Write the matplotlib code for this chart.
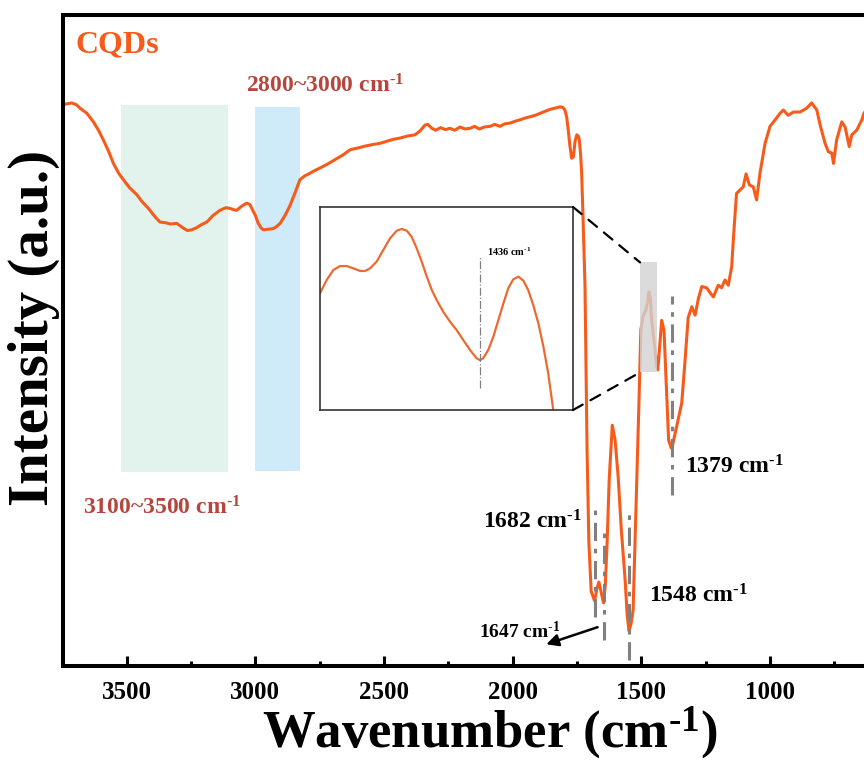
import matplotlib
matplotlib.use("Agg")
import matplotlib.pyplot as plt
from matplotlib.ticker import MultipleLocator
from matplotlib.patches import Rectangle, ConnectionPatch

plt.rcParams['font.family'] = ['Liberation Serif', 'DejaVu Serif']
plt.rcParams['font.weight'] = 'bold'
plt.rcParams['mathtext.fontset'] = 'custom'
plt.rcParams['mathtext.rm'] = 'Liberation Serif:bold'
plt.rcParams['mathtext.it'] = 'Liberation Serif:bold'
plt.rcParams['mathtext.bf'] = 'Liberation Serif:bold'
plt.rcParams['mathtext.default'] = 'rm'

# FTIR spectrum of CQDs
wavenumber = [3760, 3740, 3714, 3695, 3682, 3655, 3630, 3610, 3591, 3570, 3552, 3530, 3513, 3490,
              3461, 3440, 3416, 3390, 3371, 3350, 3330, 3306, 3285, 3265, 3248, 3230, 3210, 3189,
              3165, 3138, 3115, 3099, 3085, 3073, 3055, 3034, 3022, 3014, 3000, 2989, 2978, 2969,
              2950, 2930, 2915, 2904, 2885, 2866, 2845, 2827, 2808, 2788, 2770, 2749, 2720, 2690,
              2660, 2632, 2600, 2570, 2545, 2515, 2490, 2465, 2438, 2410, 2380, 2360, 2341, 2330,
              2314, 2300, 2280, 2262, 2244, 2225, 2205, 2186, 2166, 2148, 2130, 2110, 2088, 2070,
              2050, 2030, 2010, 1990, 1972, 1950, 1930, 1912, 1894, 1875, 1855, 1835, 1816, 1805,
              1797, 1790, 1784, 1778, 1771, 1764, 1758, 1751, 1745, 1741, 1736, 1732, 1726, 1719,
              1711, 1704, 1695, 1682, 1672, 1665, 1657, 1647, 1640, 1633, 1625, 1613, 1602, 1590,
              1578, 1563, 1555, 1548, 1540, 1532, 1520, 1509, 1502, 1494, 1482, 1476, 1470, 1465,
              1460, 1448, 1440, 1436, 1430, 1421, 1412, 1403, 1394, 1384, 1379, 1370, 1360, 1343,
              1330, 1318, 1304, 1291, 1278, 1265, 1246, 1232, 1220, 1201, 1188, 1175, 1162, 1149,
              1140, 1130, 1117, 1104, 1093, 1080, 1065, 1052, 1039, 1019, 1000, 980, 961, 948,
              929, 909, 883, 857, 838, 818, 805, 786, 773, 760, 753, 741, 721, 708, 692, 682,
              663, 643, 635, 615]
intensity = [86.0, 86.3, 86.5, 86.2, 85.7, 84.9, 83.6, 82.3, 80.8, 79.0, 77.2, 75.6, 74.7, 73.5,
             72.4, 71.3, 70.3, 69.0, 68.2, 68.1, 67.9, 68.0, 67.4, 66.9, 67.0, 67.3, 67.8, 68.2,
             69.2, 70.0, 70.4, 70.3, 70.1, 70.0, 70.6, 71.1, 70.9, 70.3, 69.2, 68.0, 67.3, 67.0,
             67.1, 67.2, 67.6, 68.0, 69.2, 70.7, 72.8, 74.7, 75.3, 75.7, 76.1, 76.5, 77.1, 77.8,
             78.5, 79.3, 79.6, 79.9, 80.1, 80.3, 80.6, 80.9, 81.1, 81.4, 81.6, 82.2, 83.1, 83.2,
             82.6, 82.3, 82.7, 82.4, 82.6, 82.3, 82.8, 82.5, 82.6, 82.9, 82.5, 82.8, 82.9, 83.2,
             82.9, 83.3, 83.4, 83.7, 83.9, 84.2, 84.4, 84.6, 84.9, 85.2, 85.5, 85.7, 85.9, 85.8,
             85.4, 84.3, 82.3, 80.0, 78.0, 78.2, 80.5, 81.6, 81.4, 80.8, 78.5, 75.7, 68.0, 58.3,
             33.2, 19.0, 11.5, 10.0, 12.0, 12.9, 11.5, 9.7, 12.5, 19.0, 28.6, 37.0, 34.7, 29.0,
             21.0, 13.2, 7.8, 5.4, 6.5, 8.6, 25.5, 40.9, 51.6, 53.7, 54.7, 56.0, 57.5, 56.4,
             53.1, 49.0, 46.0, 45.5, 48.5, 53.1, 51.6, 43.0, 34.7, 33.5, 33.9, 35.5, 37.3, 40.4,
             47.0, 53.5, 55.2, 53.9, 56.5, 58.3, 58.1, 57.3, 56.7, 58.5, 58.1, 59.3, 58.5, 61.3,
             67.0, 72.6, 73.1, 73.6, 75.6, 73.9, 73.6, 71.6, 75.7, 80.3, 82.9, 83.9, 84.9, 85.4,
             84.6, 85.1, 85.1, 85.7, 86.5, 85.4, 83.1, 80.3, 79.0, 78.8, 77.2, 80.8, 83.6, 82.8,
             79.8, 81.6, 82.3, 83.9, 84.9, 86.0]

# zoomed detail around 1436 cm-1 (inset)
inset_wn = [1500.0, 1497.4, 1494.7, 1492.1, 1489.4, 1486.8, 1484.2, 1482.2, 1480.2, 1477.6,
            1475.0, 1472.3, 1469.7, 1467.7, 1465.7, 1463.8, 1461.8, 1459.8, 1457.8, 1455.8,
            1453.9, 1451.3, 1448.6, 1446.0, 1443.4, 1440.7, 1438.1, 1436.8, 1435.5, 1433.5,
            1431.5, 1429.5, 1427.5, 1425.6, 1423.6, 1421.6, 1419.6, 1417.7, 1415.7, 1413.7,
            1411.7, 1409.8, 1407.8, 1406.0]
inset_int = [0.575, 0.640, 0.690, 0.709, 0.709, 0.698, 0.685, 0.685, 0.698, 0.731,
             0.788, 0.846, 0.883, 0.892, 0.883, 0.854, 0.797, 0.731, 0.657, 0.591,
             0.542, 0.484, 0.435, 0.394, 0.345, 0.296, 0.255, 0.246, 0.255, 0.296,
             0.361, 0.443, 0.526, 0.600, 0.644, 0.657, 0.637, 0.591, 0.517, 0.427,
             0.312, 0.181, 0.0, -0.1]

peaks = [1682, 1647, 1548, 1379]
peak_lines = [(7.5, 24.7), (4.0, 21.2), (0.9, 23.5), (26.2, 56.9)]

line_color = '#f75b1b'
band_color = '#b5453d'
cm = r'cm$^{\text{-}1}$'

fig = plt.figure(figsize=(8.64, 7.63), dpi=100)
ax = fig.add_axes([0.0729, 0.1271, 0.9271, 0.8532])

# shaded bands
ax.add_patch(Rectangle((3107, 29.8), 3522 - 3107, 86.2 - 29.8, facecolor='#e2f2ec', edgecolor='none', zorder=0))
ax.add_patch(Rectangle((2826, 30.0), 3001 - 2826, 85.9 - 30.0, facecolor='#cfeaf9', edgecolor='none', zorder=0))

ax.plot(wavenumber, intensity, color=line_color, lw=2.2, zorder=2)

# gray box marking the zoomed area
ax.add_patch(Rectangle((1438, 45.1), 1505 - 1438, 62.0 - 45.1, facecolor='#d3d3d3', edgecolor='none',
                       alpha=0.8, zorder=3))

for p, (y0, y1) in zip(peaks, peak_lines):
    ax.plot([p, p], [y0, y1], color='gray', lw=2.2, ls=(0, (6, 2.5, 1.5, 2.5)), zorder=3)

ax.set_xlim(3748, 634.6)
ax.set_ylim(0, 100)
ax.xaxis.set_major_locator(MultipleLocator(500))
ax.xaxis.set_minor_locator(MultipleLocator(250))
ax.set_yticks([])
ax.tick_params(axis='x', which='major', direction='in', length=7, width=2.2, pad=11, labelsize=18)
ax.tick_params(axis='x', which='minor', direction='in', length=3.5, width=2.2)
for s in ['left', 'bottom', 'top']:
    ax.spines[s].set_linewidth(2.9)
ax.spines['right'].set_visible(False)

ax.set_xlabel('Wavenumber (' + cm + ')', fontsize=38, fontweight='bold')
ax.xaxis.set_label_coords(0.533, -0.058)
ax.set_ylabel('Intensity (a.u.)', fontsize=41, fontweight='bold')
ax.yaxis.set_label_coords(-0.004, 0.52)

ax.text(3701, 94.3, 'CQDs', color=line_color, fontsize=23, fontweight='bold', va='baseline')
ax.text(3035, 88.1, '2800~3000 ' + cm, color=band_color, fontsize=17, fontweight='bold', va='baseline')
ax.text(3670, 23.2, '3100~3500 ' + cm, color=band_color, fontsize=17, fontweight='bold', va='baseline')
ax.text(2117, 21.2, '1682 ' + cm, fontsize=17, fontweight='bold', va='baseline')
ax.text(1470, 9.8, '1548 ' + cm, fontsize=17, fontweight='bold', va='baseline')
ax.text(1330, 29.5, '1379 ' + cm, fontsize=17, fontweight='bold', va='baseline')
ax.text(2131, 4.3, '1647 ' + cm, fontsize=14, fontweight='bold', va='baseline')
ax.annotate('', xy=(1880, 3.2), xytext=(1660, 6.1),
            arrowprops=dict(arrowstyle='-|>', color='black', lw=1.8, mutation_scale=18))

# inset
axin = fig.add_axes([0.3704, 0.4626, 0.2928, 0.2661])
axin.plot(inset_wn, inset_int, color='#ec6a32', lw=1.6)
axin.plot([1436.8, 1436.8], [0.107, 0.755], color='gray', lw=0.9, ls='-.')
axin.text(1434, 0.78, '1436 ' + cm, fontsize=7.5, fontweight='bold', va='center')
axin.set_xlim(1500, 1400)
axin.set_ylim(0, 1)
axin.set_xticks([])
axin.set_yticks([])
for s in axin.spines.values():
    s.set_linewidth(1.2)
    s.set_color('#333333')

for xa, ya, xb, yb in [(1, 1, 1505, 62.0), (1, 0, 1505, 45.1)]:
    con = ConnectionPatch(xyA=(xa, ya), coordsA=axin.transAxes, xyB=(xb, yb), coordsB=ax.transData,
                          color='black', lw=1.6, ls=(0, (5, 4)))
    fig.add_artist(con)

fig.savefig('out.png', dpi=100)
